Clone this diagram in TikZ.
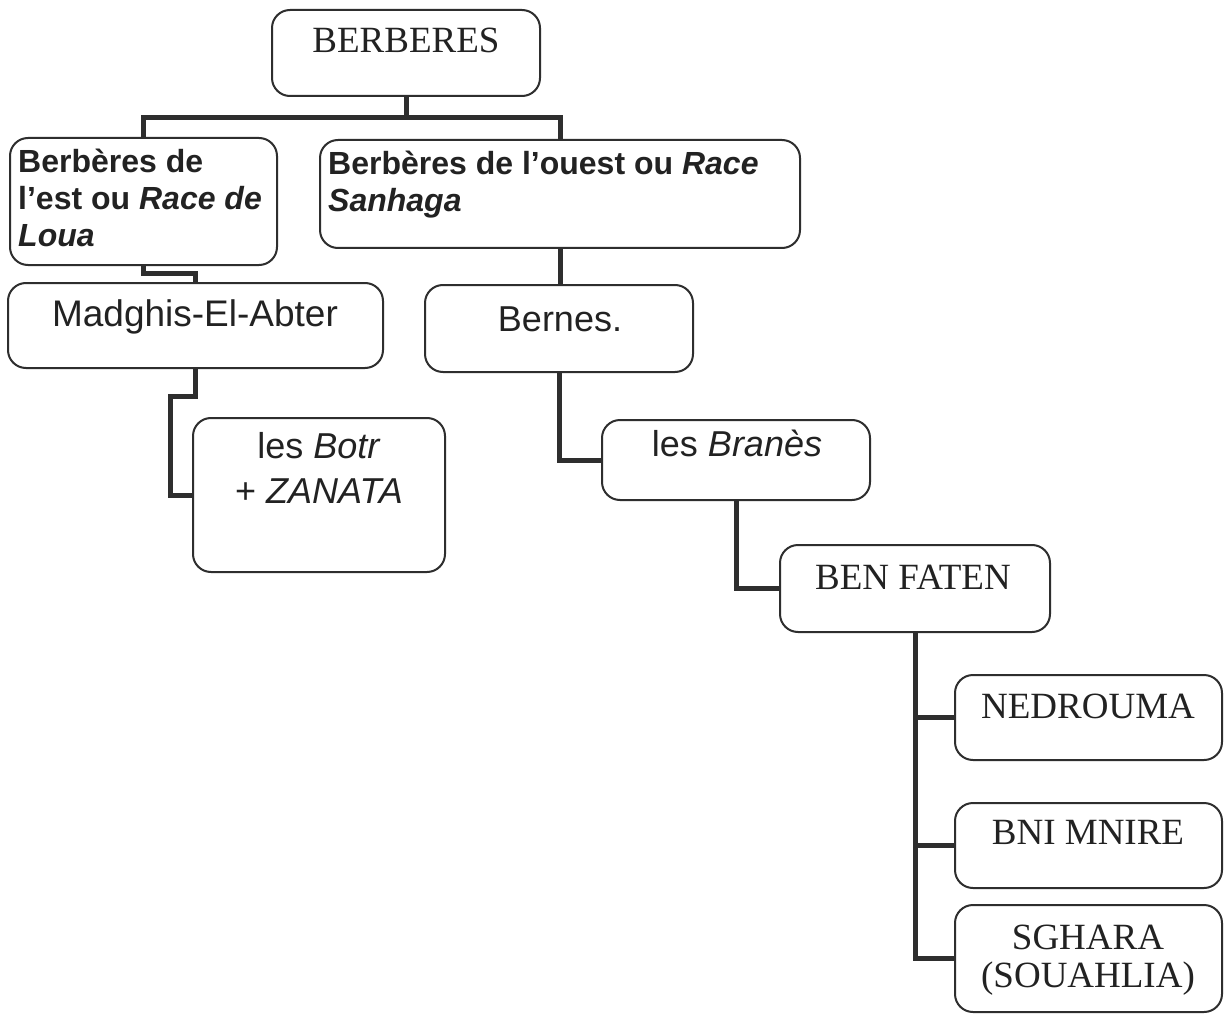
\documentclass[tikz,border=0pt]{standalone}
\usepackage{fontspec}
\setmainfont{Liberation Serif}
\setsansfont{Liberation Sans}
\definecolor{linec}{HTML}{2E2E2E}
\definecolor{textc}{HTML}{222222}
\begin{document}
\begin{tikzpicture}[x=1pt,y=-1pt,
  box/.style={draw=linec, line width=2pt, rounded corners=18pt, inner sep=0pt, fill=white},
  conn/.style={draw=linec, line width=5pt},
  serif/.style={font=\fontsize{37}{38}\selectfont, text=textc, inner sep=0pt},
  sansr/.style={font=\sffamily\fontsize{36}{45}\selectfont, text=textc, inner sep=0pt},
  sansb/.style={font=\sffamily\bfseries\fontsize{32}{37}\selectfont, text=textc, inner sep=0pt}]
\useasboundingbox (0,0) rectangle (1225,1016);
\fill[white] (0,0) rectangle (1225,1016);
% boxes
\node[box, minimum width=268pt, minimum height=86pt] (berb) at (406,53) {};
\node[box, minimum width=267pt, minimum height=127pt] (est) at (143.5,201.5) {};
\node[box, minimum width=480pt, minimum height=108pt] (ouest) at (560,194) {};
\node[box, minimum width=375pt, minimum height=85pt] (madg) at (195.5,325.5) {};
\node[box, minimum width=252pt, minimum height=154pt] (botr) at (319,495) {};
\node[box, minimum width=268pt, minimum height=87pt] (bern) at (559,328.5) {};
\node[box, minimum width=268pt, minimum height=80pt] (bran) at (736,460) {};
\node[box, minimum width=270pt, minimum height=87pt] (benf) at (915,588.5) {};
\node[box, minimum width=267pt, minimum height=85pt] (ned) at (1088.5,717.5) {};
\node[box, minimum width=267pt, minimum height=85pt] (bni) at (1088.5,845.5) {};
\node[box, minimum width=267pt, minimum height=107pt] (sgh) at (1088.5,958.5) {};
% connectors
\coordinate (j1) at (406,118);
\draw[conn] (berb.south) -- (j1);
\draw[conn] (est.north) |- (j1) -| (ouest.north);
\draw[conn] (est.south) -- ++(0,7) -| (madg.north);
\draw[conn] (madg.south) -- ++(0,27) -- ++(-25,0) |- (botr.west);
\draw[conn] (ouest.south) -- (ouest.south |- bern.north);
\draw[conn] (bern.south) |- (bran.west);
\draw[conn] (bran.south) |- (benf.west);
\draw[conn] (benf.south) |- (ned.west);
\draw[conn] (benf.south) |- (bni.west);
\draw[conn] (benf.south) |- (sgh.west);
% texts
\node[serif, anchor=base] (tberb) at (406,53) {BERBERES};
\node[sansb, anchor=base west, align=left] (test) at (18,247) {Berbères de\\l’est ou \textit{Race de}\\\textit{Loua}};
\node[sansb, anchor=base west, align=left] (touest) at (328,212) {Berbères de l’ouest ou \textit{Race}\\\textit{Sanhaga}};
\node[sansr, anchor=base, font=\sffamily\fontsize{37}{45}\selectfont] (tmadg) at (195,326) {Madghis-El-Abter};
\node[sansr, anchor=base, align=center] (tbotr) at (319,503) {les \textit{Botr}\\+ \textit{ZANATA}};
\node[sansr, anchor=base] (tbern) at (560,331) {Bernes.};
\node[sansr, anchor=base] (tbran) at (737,456) {les \textit{Branès}};
\node[serif, anchor=base] (tbenf) at (913,589) {BEN FATEN};
\node[serif, anchor=base] (tned) at (1088,718) {NEDROUMA};
\node[serif, anchor=base] (tbni) at (1088,844) {BNI MNIRE};
\node[serif, anchor=base, align=center] (tsgh) at (1088,987) {SGHARA\\(SOUAHLIA)};
\end{tikzpicture}
\end{document}
